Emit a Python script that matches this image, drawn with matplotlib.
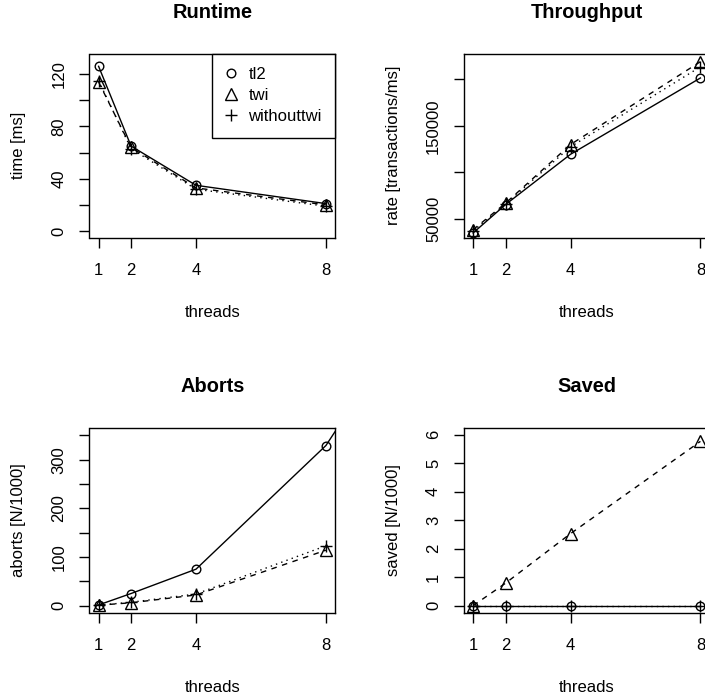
import matplotlib
matplotlib.use("Agg")
import matplotlib.pyplot as plt
from matplotlib.lines import Line2D

plt.rcParams['font.family'] = ['Liberation Sans', 'DejaVu Sans']
plt.rcParams['font.size'] = 12

# ---- data ----
threads = [1, 2, 4, 8]
series_names = ["tl2", "twi", "withouttwi"]

runtime_tl2 = [126, 65, 35, 21]
runtime_twi = [114, 64, 33, 20]
runtime_without = [115, 63, 32, 19]

throughput_tl2 = [35000, 65500, 119500, 201500]
throughput_twi = [38500, 67000, 130000, 219000]
throughput_without = [37000, 66000, 127500, 213500]

aborts_threads_tl2 = [1, 2, 4, 8, 16]
aborts_tl2 = [1.5, 25, 75, 329, 1140]
aborts_twi = [1, 6, 22, 114]
aborts_without = [1, 7, 24, 123]

saved_tl2 = [0, 0, 0, 0]
saved_twi = [0, 0.79, 2.53, 5.77]
saved_without = [0, 0, 0, 0]

xtick_labels = ["1", "2", "4", "8"]
runtime_yticks = [0, 20, 40, 60, 80, 100, 120]
runtime_ylabels = ["0", "", "40", "", "80", "", "120"]
throughput_yticks = [50000, 100000, 150000, 200000]
throughput_ylabels = ["50000", "", "150000", ""]
aborts_yticks = [0, 50, 100, 150, 200, 250, 300, 350]
aborts_ylabels = ["0", "", "100", "", "200", "", "300", ""]
saved_yticks = [0, 1, 2, 3, 4, 5, 6]
saved_ylabels = ["0", "1", "2", "3", "4", "5", "6"]

# ---- figure ----
W, H = 705, 696
fig = plt.figure(figsize=(W / 100, H / 100), dpi=100)
AX_H = 184.5


def make_axes(left_px, top_px, w_px=245.5, h_px=AX_H):
    return fig.add_axes([left_px / W, 1 - (top_px + h_px) / H, w_px / W, h_px / H])


styles = [
    dict(ls='-', marker='o', ms=6.2),
    dict(ls=(0, (4, 4)), marker='^', ms=8.2),
    dict(ls=(0, (1, 3)), marker='+', ms=8.6),
]


def draw(ax, xs_list, ys_list, title, ylabel, ylim, yticks, ylabels):
    for xs, ys, st in zip(xs_list, ys_list, styles):
        ax.plot(xs, ys, color='black', linestyle=st['ls'], linewidth=1.0,
                marker=st['marker'], markersize=st['ms'], markerfacecolor='none',
                markeredgecolor='black', markeredgewidth=1.0)
    ax.set_xlim(0.72, 8.28)
    ax.set_ylim(*ylim)
    ax.set_xticks(threads)
    ax.set_xticklabels(xtick_labels)
    ax.set_yticks(yticks)
    ax.set_yticklabels(ylabels, rotation=90, va='center')
    ax.tick_params(direction='out', length=7.0, width=1.0, labelsize=12)
    ax.tick_params(axis='x', pad=11)
    ax.tick_params(axis='y', pad=9.5)
    for s in ax.spines.values():
        s.set_linewidth(1.0)
    ax.set_xlabel("threads", fontsize=12, va='center')
    ax.xaxis.set_label_coords(0.5, -0.405)
    ax.set_ylabel(ylabel, fontsize=12, va='center')
    ax.yaxis.set_label_coords(-0.288, 0.5)
    ax.text(0.5, 1 + 41.5 / AX_H, title, transform=ax.transAxes,
            ha='center', va='center', fontsize=14.4, fontweight='bold')


ax1 = make_axes(89.5, 53.5)
draw(ax1, [threads, threads, threads], [runtime_tl2, runtime_twi, runtime_without],
     "Runtime", "time [ms]", (-5.3, 135.8), runtime_yticks, runtime_ylabels)

handles = [Line2D([], [], color='black', linestyle='none', marker=st['marker'],
                  markersize=st['ms'], markerfacecolor='none', markeredgewidth=1.0)
           for st in styles]
leg = ax1.legend(handles, series_names, loc='upper right', bbox_to_anchor=(1, 1),
                 borderaxespad=0, fancybox=False, framealpha=1, edgecolor='black',
                 fontsize=12, handlelength=0.7, handletextpad=0.7, borderpad=0.8,
                 labelspacing=0.37)
leg.get_frame().set_linewidth(1.0)

ax2 = make_axes(464, 53.5)
draw(ax2, [threads, threads, threads],
     [throughput_tl2, throughput_twi, throughput_without],
     "Throughput", "rate [transactions/ms]", (29570, 227800),
     throughput_yticks, throughput_ylabels)

ax3 = make_axes(89.5, 428)
draw(ax3, [aborts_threads_tl2, threads, threads],
     [aborts_tl2, aborts_twi, aborts_without],
     "Aborts", "aborts [N/1000]", (-14, 365), aborts_yticks, aborts_ylabels)

ax4 = make_axes(464, 428)
draw(ax4, [threads, threads, threads], [saved_tl2, saved_twi, saved_without],
     "Saved", "saved [N/1000]", (-0.24, 6.24), saved_yticks, saved_ylabels)

fig.savefig("out.png", dpi=100)
